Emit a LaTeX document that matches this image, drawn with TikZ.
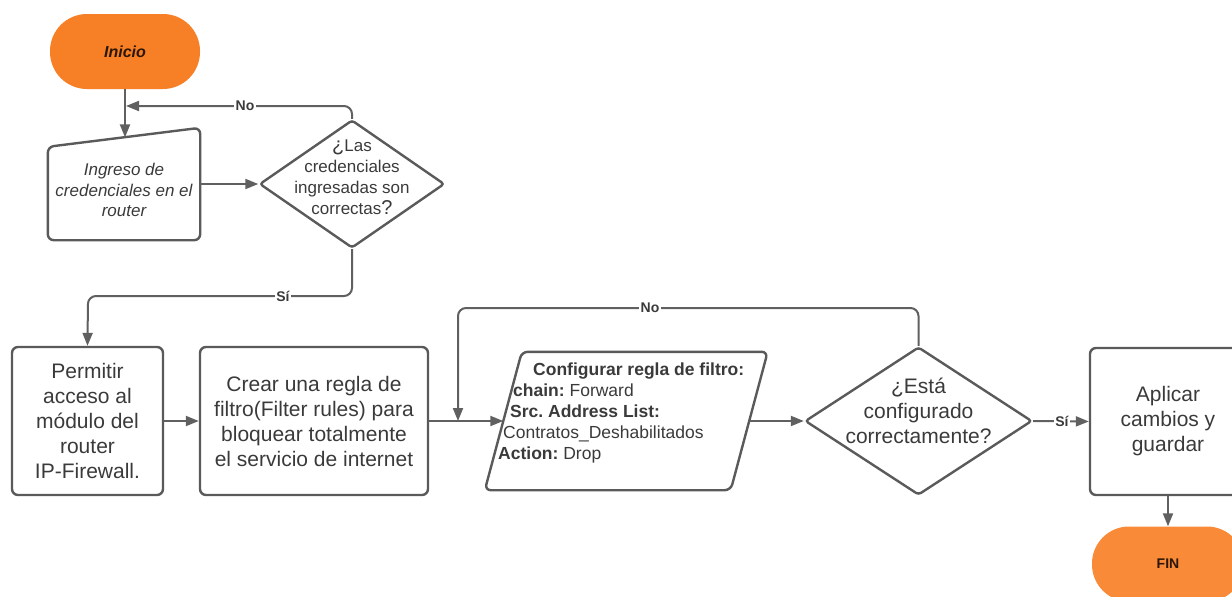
\documentclass[tikz,border=0pt]{standalone}
\usepackage{fontspec}
\setmainfont{Liberation Sans}
\frenchspacing
\usetikzlibrary{arrows.meta,shapes.geometric}
\definecolor{linec}{HTML}{606060}
\definecolor{edge}{HTML}{5A5A5A}
\definecolor{ink}{HTML}{3A3A3A}
\definecolor{startfill}{HTML}{F77F25}
\definecolor{endfill}{HTML}{F88A38}
\definecolor{termink}{HTML}{2B1607}
\tikzset{
  conn/.style={draw=linec, line width=2pt, -{Triangle[length=13pt,width=10pt]}},
  frame/.style={draw=edge, line width=2.4pt, rounded corners=6pt},
  procbox/.style={frame, rectangle, minimum height=148pt, align=center, text=ink,
    font=\fontsize{21}{25}\selectfont, inner sep=0pt},
  term/.style={rectangle, rounded corners=37pt, minimum width=152pt, minimum height=75pt,
    inner sep=0pt, text=termink},
  decision/.style={diamond, draw=edge, line width=2.4pt, inner sep=0pt, rounded corners=3pt},
  ghost/.style={rectangle, inner sep=0pt},
  lbl/.style={fill=white, inner sep=1.5pt, font=\bfseries\fontsize{14}{14}\selectfont, text=ink},
  qtext/.style={align=center, text=ink, inner sep=0pt},
}
\begin{document}
\begin{tikzpicture}[x=1pt,y=-1pt]
\useasboundingbox (0,0) rectangle (1232,597);

% start
\node[term, fill=startfill, minimum width=150pt, font=\bfseries\itshape\fontsize{16}{16}\selectfont]
  (inicio) at (125,51.5) {Inicio};

% manual input: credentials
\node[ghost, minimum width=152pt, minimum height=112pt] (inp) at (124,184) {};
\draw[frame] (inp.south west) -- ([yshift=-19pt]inp.north west) -- (inp.north east)
  -- (inp.south east) -- cycle;
\node[qtext, font=\itshape\fontsize{17}{20.5}\selectfont] (inptext) at (124,190)
  {Ingreso de\\credenciales en el\\router};
\coordinate (inptop) at (125,137.4);

% first decision
\node[decision, minimum width=185pt, minimum height=128pt] (d1) at (352,184) {};
\node[qtext, font=\fontsize{17}{21}\selectfont] (d1text) at (352,177)
  {{\fontsize{20}{21}\selectfont ¿}Las\\credenciales\\ingresadas son\\correctas{\fontsize{20}{21}\selectfont ?}};

% process row
\node[procbox, minimum width=151pt] (p1) at (87.5,421)
  {Permitir\\acceso al\\módulo del\\router\\IP-Firewall.};
\node[procbox, minimum width=228pt] (p2) at (314,421)
  {Crear una regla de\\filtro(Filter rules) para\\bloquear totalmente\\el servicio de internet};

% filter rule data (parallelogram)
\node[ghost, minimum width=245.5pt, minimum height=138pt] (par) at (626.25,421) {};
\draw[frame] ([xshift=-18.5pt]par.south west) -- ([xshift=18.5pt]par.north west)
  -- ([xshift=18.5pt]par.north east) -- ([xshift=-18.5pt]par.south east) -- cycle;
\node[ghost, anchor=north west, align=left, text=ink, font=\fontsize{17.5}{21}\selectfont]
  (partext) at (498,363)
  {\hspace*{35pt}\textbf{Configurar regla de filtro:}\\
   \hspace*{15pt}\textbf{chain:} Forward\\
   \hspace*{12pt}\textbf{Src. Address List:}\\
   \hspace*{5pt}Contratos\_Deshabilitados\\
   \textbf{Action:} Drop};

% second decision
\node[decision, minimum width=227pt, minimum height=148pt] (d2) at (918.5,421) {};
\node[qtext, font=\fontsize{21}{25}\selectfont] (d2text) at (918.5,411)
  {¿Está\\configurado\\correctamente?};

% apply and end
\node[procbox, minimum width=156pt, minimum height=147pt] (p3) at (1168,421.5)
  {Aplicar\\cambios y\\guardar};
\node[term, fill=endfill, font=\bfseries\fontsize{14}{14}\selectfont]
  (fin) at (1168,564) {FIN};

% turning points of the loops
\coordinate (noa) at (126,106);
\coordinate (siturn) at (88,296);
\coordinate (nob) at (458,308);
\coordinate (nomerge) at (458,421);

% connectors
\draw[conn] (inicio.south) -- (inptop);
\draw[conn] (inp.east) -- (d1.west);
\draw[conn, rounded corners=8pt] (d1.north) |- (noa);
\node[lbl] (nolbl1) at (245,106) {No};
\draw[conn, rounded corners=8pt] (d1.south) |- (siturn) -- (p1.north);
\node[lbl] (silbl1) at (283,296) {Sí};
\draw[conn] (p1.east) -- (p2.west);
\draw[conn] (p2.east) -- (par.west);
\draw[conn] (par.east) -- (d2.west);
\draw[conn, rounded corners=8pt] (d2.north) |- (nob) -- (nomerge);
\node[lbl] (nolbl2) at (650,308) {No};
\draw[conn] (d2.east) -- (p3.west);
\node[lbl] (silbl2) at (1062,421) {Sí};
\draw[conn] (p3.south) -- (fin.north);
\end{tikzpicture}
\end{document}
